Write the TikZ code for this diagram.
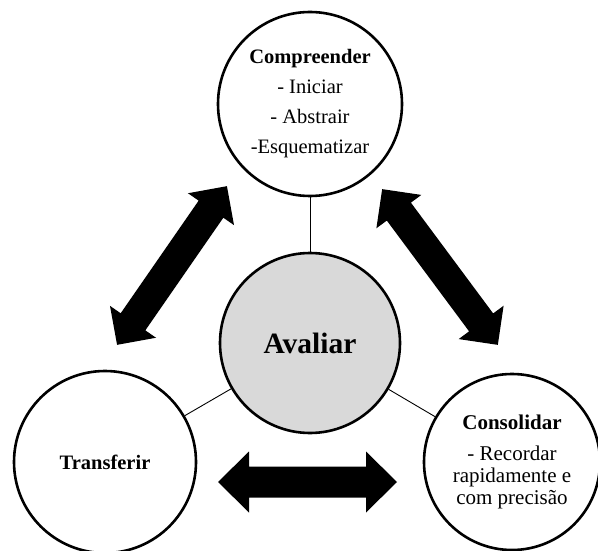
\documentclass[tikz,border=0pt]{standalone}
\usepackage{fontspec}
\setmainfont{Liberation Serif}
\definecolor{avgray}{RGB}{217,217,217}
\newcommand\dblarrowshape[8]{% #1 name, #2 x, #3 y, #4 angle, #5 half length, #6 head length, #7 head half width, #8 shaft half width
  \begin{scope}[shift={(#2,#3)}, rotate=#4]
    \coordinate (#1) at (0,0);
    \fill[arrowfill] (-#5,0) -- (-#5+#6,#7) -- (-#5+#6,#8) -- (#5-#6,#8) -- (#5-#6,#7)
      -- (#5,0) -- (#5-#6,-#7) -- (#5-#6,-#8) -- (-#5+#6,-#8) -- (-#5+#6,-#7) -- cycle;
  \end{scope}}
\begin{document}
\begin{tikzpicture}[x=1pt,y=-1pt,
  ring/.style={circle, draw=black, line width=2.6pt, fill=white, inner sep=0pt, align=center, text=black},
  link/.style={line width=0.9pt, draw=black},
  arrowfill/.style={fill=black}]
\useasboundingbox (0,0) rectangle (598,551);
\fill[white] (0,0) rectangle (598,551);
\node[ring, minimum size=184pt, font=\fontsize{20.5}{30}\selectfont] (comp) at (310,104)
  {\textbf{Compreender}\\- Iniciar\\- Abstrair\\-Esquematizar};
\node[ring, fill=avgray, minimum size=180pt, font=\fontsize{29.5}{32}\selectfont\bfseries] (aval) at (310,343) {Avaliar};
\node[ring, minimum size=182pt, font=\fontsize{20.5}{24}\selectfont\bfseries] (trans) at (105,462) {Transferir};
\node[ring, minimum size=176pt, font=\fontsize{21}{22}\selectfont] (cons) at (512,462)
  {\textbf{Consolidar}\\[9pt]- Recordar\\rapidamente e\\com precisão};
\draw[link] (comp) -- (aval);
\draw[link] (aval) -- (trans);
\draw[link] (aval) -- (cons);
\dblarrowshape{arrowL}{172}{265.5}{55.3}{96.5}{28}{28}{15}
\dblarrowshape{arrowR}{440}{267}{-53.4}{97}{28}{28}{15}
\dblarrowshape{arrowB}{307.5}{482}{0}{89.5}{31}{30.5}{15.5}
\end{tikzpicture}
\end{document}
